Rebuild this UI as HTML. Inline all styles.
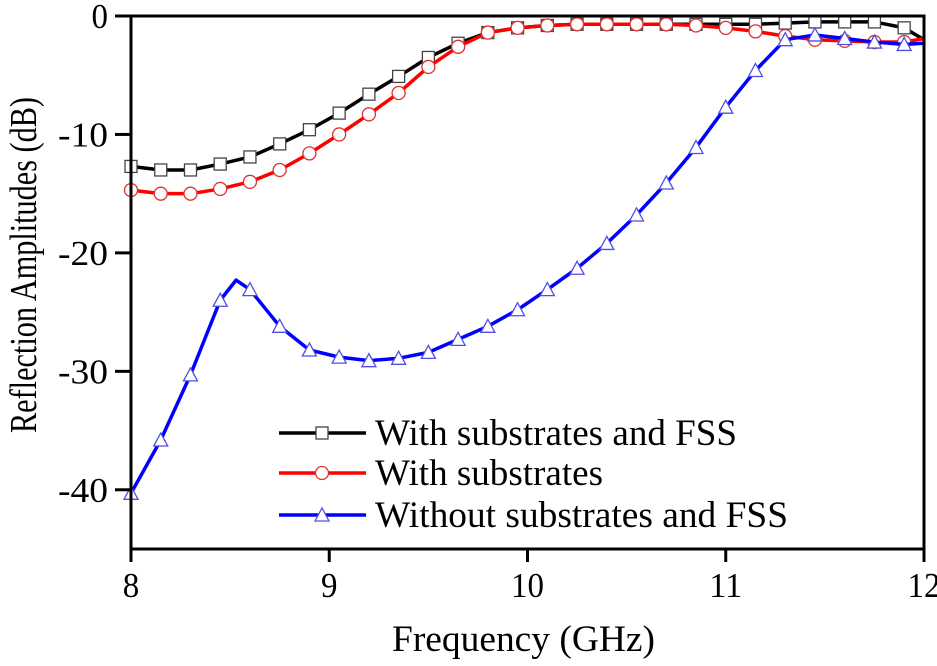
<!DOCTYPE html>
<html><head><meta charset="utf-8"><style>
body{margin:0;background:#fff}
svg{display:block;font-family:"Liberation Serif",serif}
</style></head><body>
<svg id="c" width="937" height="666"></svg>
<script>
const freqGrid=[8,8.15,8.3,8.45,8.6,8.75,8.9,9.05,9.2,9.35,9.5,9.65,9.8,9.95,10.1,10.25,10.4,10.55,10.7,10.85,11,11.15,11.3,11.45,11.6,11.75,11.9,12];
const blackVals=[-12.7,-13.0,-13.0,-12.5,-11.9,-10.8,-9.6,-8.2,-6.6,-5.1,-3.5,-2.3,-1.4,-1.0,-0.8,-0.7,-0.7,-0.7,-0.7,-0.7,-0.7,-0.7,-0.6,-0.5,-0.5,-0.5,-1.0,-2.0];
const redVals=[-14.7,-15.0,-15.0,-14.6,-14.0,-13.0,-11.6,-10.0,-8.3,-6.5,-4.3,-2.6,-1.4,-1.0,-0.8,-0.7,-0.7,-0.7,-0.7,-0.8,-1.0,-1.3,-1.7,-2.0,-2.1,-2.2,-2.2,-1.9];
const blueFreq=[8,8.15,8.3,8.45,8.53,8.6,8.75,8.9,9.05,9.2,9.35,9.5,9.65,9.8,9.95,10.1,10.25,10.4,10.55,10.7,10.85,11,11.15,11.3,11.45,11.6,11.75,11.9,12];
const blueVals=[-40.3,-35.8,-30.3,-24.0,-22.3,-23.1,-26.2,-28.2,-28.8,-29.1,-28.9,-28.4,-27.3,-26.2,-24.8,-23.1,-21.3,-19.2,-16.8,-14.1,-11.1,-7.7,-4.6,-2.0,-1.6,-1.9,-2.2,-2.4,-2.3];
const xTicks=[8,9,10,11,12];
const yTicks=[0,-10,-20,-30,-40];
const legendLabels=["With substrates and FSS","With substrates","Without substrates and FSS"];

const X0=131,X1=924,Y0=16,Y1=549;
const sx=v=>X0+(v-8)/4*(X1-X0);
const sy=v=>Y0+(0-v)/45*(Y1-Y0);
const svg=document.getElementById('c');
const NS='http://www.w3.org/2000/svg';
function mk(tag,attrs,parent){const e=document.createElementNS(NS,tag);for(const k in attrs)e.setAttribute(k,attrs[k]);(parent||svg).appendChild(e);return e;}
const CW=16.5;
function numLen(s){let w=0;for(const c of String(s))w+=(c==='-'?17:CW);return w;}

function marker(kind,x,y,color,g){
  let m;
  if(kind==='sq')m=mk('rect',{x:x-6,y:y-6,width:12,height:12,fill:'#fff',stroke:'#444','stroke-width':1.3},g);
  else if(kind==='ci')m=mk('circle',{cx:x,cy:y,r:6.5,fill:'#fff',stroke:'#e03030','stroke-width':1.3},g);
  else m=mk('polygon',{points:`${x},${y-7} ${x-7},${y+6} ${x+7},${y+6}`,fill:'#fff',stroke:'#5050e0','stroke-width':1.3},g);
  
  
}
function series(xs,ys,color,kind,name){
  const g=mk('g',{});
  
  
  const pts=xs.map((f,i)=>sx(f)+','+sy(ys[i])).join(' ');
  const l=mk('polyline',{points:pts,fill:'none',stroke:color,'stroke-width':3.5,'stroke-linejoin':'round'},g);
  
  
  xs.forEach((f,i)=>{const k=Math.round((f-8)/0.15);if(Math.abs(8+k*0.15-f)<0.001&&f<12)marker(kind,sx(f),sy(ys[i]),color,g);});
}
series(freqGrid,blackVals,'#000','sq','series-with-substrates-and-fss');
series(freqGrid,redVals,'#ff0000','ci','series-with-substrates');
series(blueFreq,blueVals,'#0000ff','tr','series-without-substrates-and-fss');

const fr=mk('rect',{x:X0,y:Y0,width:X1-X0,height:Y1-Y0,fill:'none',stroke:'#000','stroke-width':3});


xTicks.forEach(t=>{
  const l=mk('line',{x1:sx(t),x2:sx(t),y1:Y1,y2:Y1+13,stroke:'#000','stroke-width':3});
  
  
  const tx=mk('text',{x:sx(t),y:Y1+48,'font-size':35,'text-anchor':'middle',textLength:numLen(t),lengthAdjust:'spacingAndGlyphs'});
  tx.textContent=t;
  
  
});
yTicks.forEach(t=>{
  const l=mk('line',{x1:X0-16,x2:X0,y1:sy(t),y2:sy(t),stroke:'#000','stroke-width':3});
  
  
  const tx=mk('text',{x:108,y:sy(t)+12,'font-size':35,'text-anchor':'end',textLength:numLen(t),lengthAdjust:'spacingAndGlyphs'});
  tx.textContent=t;
  
  
});
const xt=mk('text',{x:392,y:651,'font-size':37,textLength:263,lengthAdjust:'spacingAndGlyphs'});
xt.textContent='Frequency (GHz)';


const yt=mk('text',{x:-168,y:0,'font-size':38,textLength:336,lengthAdjust:'spacingAndGlyphs',transform:'translate(36,265) rotate(-90)'});
yt.textContent='Reflection Amplitudes (dB)';



const cols=['#000','#ff0000','#0000ff'],kinds=['sq','ci','tr'],ly=[433,473,515],lens=[362,228,413];
legendLabels.forEach((lab,i)=>{
  const g=mk('g',{});
  
  
  mk('line',{x1:279,x2:366,y1:ly[i],y2:ly[i],stroke:cols[i],'stroke-width':3.5},g);
  marker(kinds[i],322,ly[i],cols[i],g);
  const t=mk('text',{x:375,y:ly[i]+12,'font-size':37,textLength:lens[i],lengthAdjust:'spacingAndGlyphs'},g);
  t.textContent=lab;
});
</script>
</body></html>
